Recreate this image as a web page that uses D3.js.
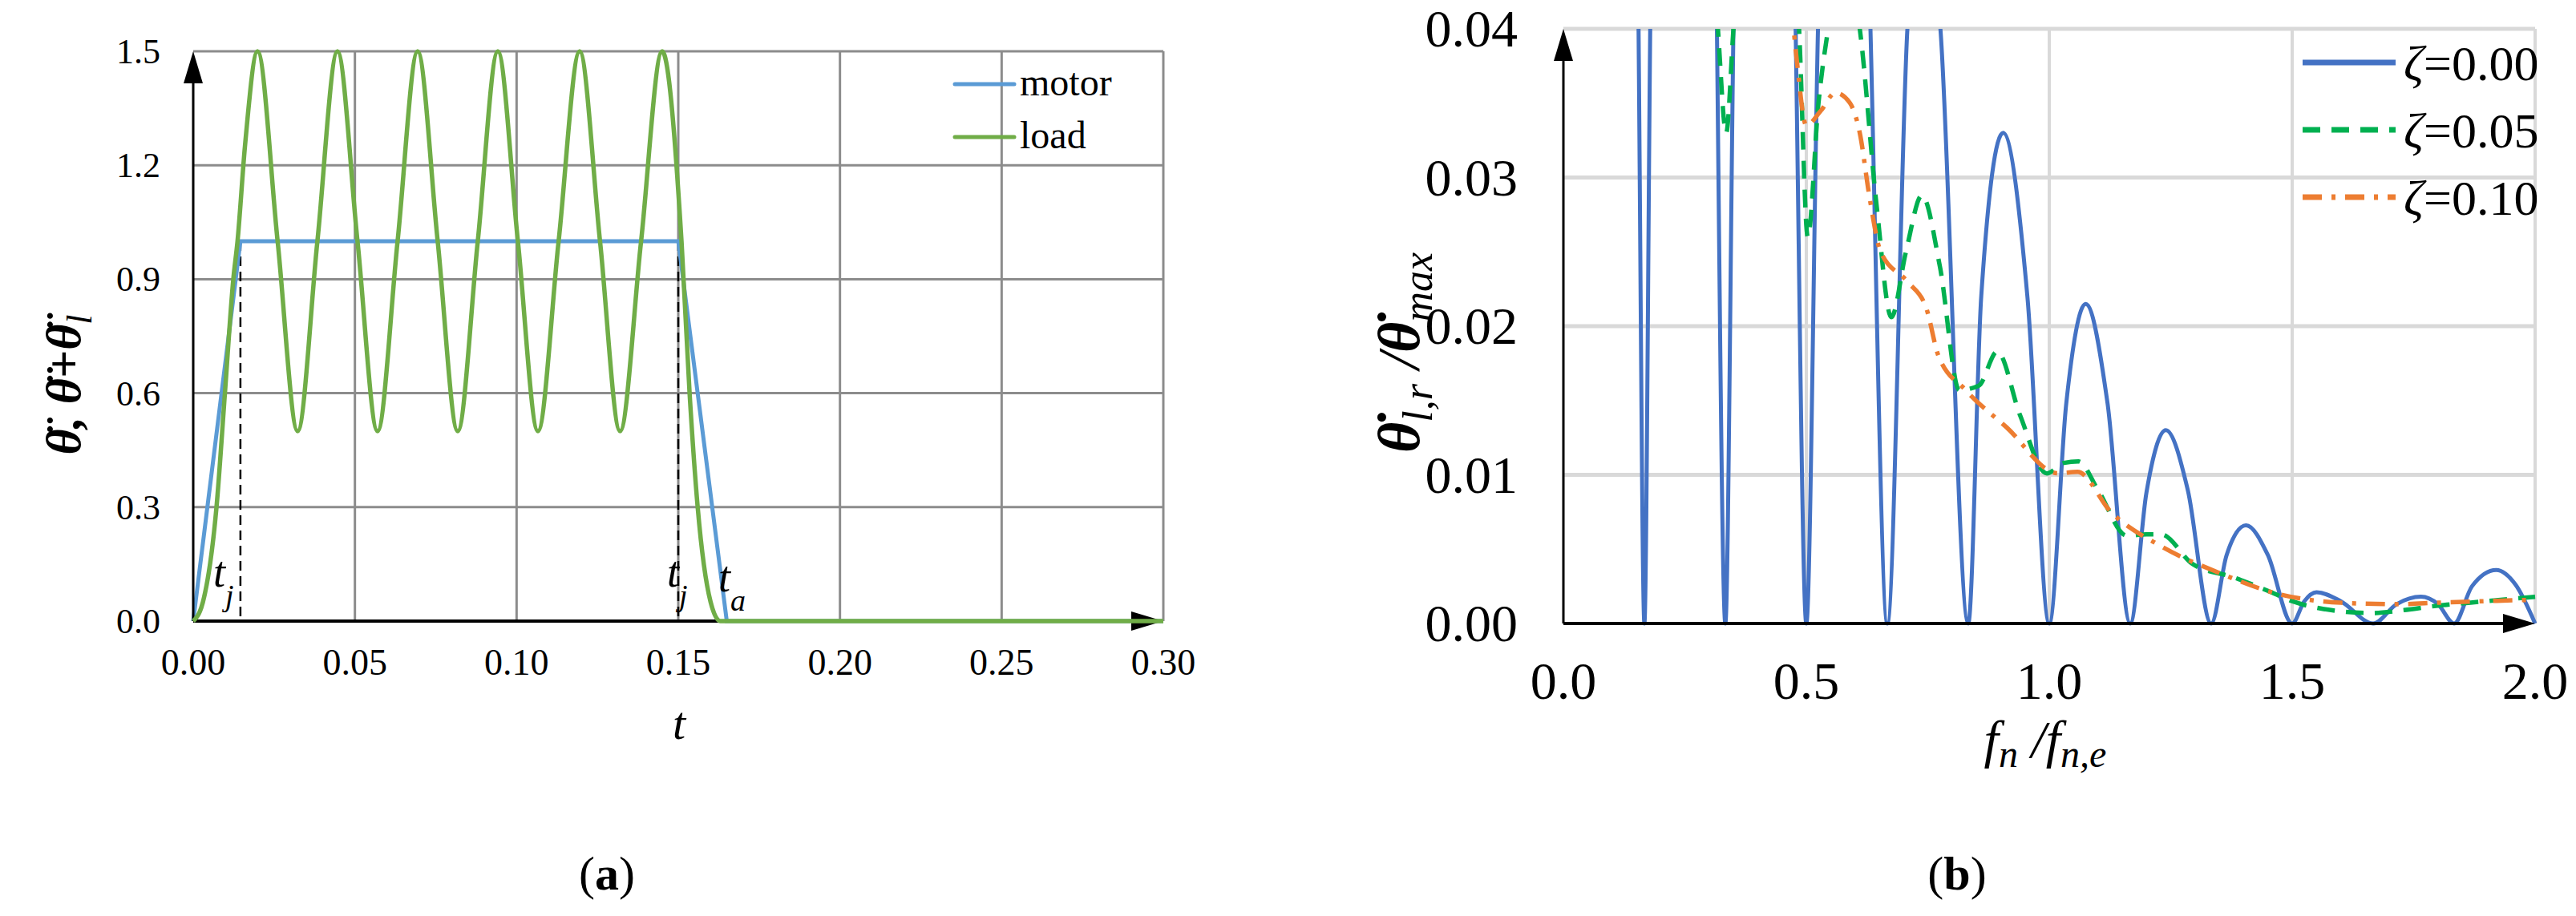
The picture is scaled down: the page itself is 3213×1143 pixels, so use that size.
<!DOCTYPE html>
<html><head><meta charset="utf-8">
<script src="https://cdn.jsdelivr.net/npm/d3@7"></script>
<style>body{margin:0;background:#fff}svg{display:block}text{font-family:"Liberation Serif","Times New Roman",serif}</style>
</head><body><svg id="c" width="3213" height="1143"></svg>
<script>
// ---- Panel (a) data ----
const aXTicks = [0, 0.05, 0.10, 0.15, 0.20, 0.25, 0.30];
const aYTicks = [0, 0.3, 0.6, 0.9, 1.2, 1.5];
const motorT = [0, 0.0146, 0.150, 0.165, 0.30];
const motorV = [0, 1, 1, 0, 0];
const loadT = [0, 0.003, 0.0072, 0.0098, 0.0124, 0.0137, 0.0160, 0.0199,
  0.0261, 0.0323, 0.0384, 0.0446, 0.0508, 0.0570, 0.0632, 0.0694, 0.0756, 0.0818,
  0.0880, 0.0942, 0.1004, 0.1066, 0.1130, 0.1195, 0.1258, 0.1320, 0.1385, 0.1450,
  0.1510, 0.1535, 0.1560, 0.1600, 0.1630, 0.30];
const loadV = [0, 0.05, 0.30, 0.60, 0.90, 1.0, 1.25, 1.5,
  1.0, 0.5, 1.0, 1.5, 1.0, 0.5, 1.0, 1.5, 1.0, 0.5,
  1.0, 1.5, 1.0, 0.5, 1.0, 1.5, 1.0, 0.5, 1.0, 1.5,
  1.0, 0.6, 0.3, 0.05, 0, 0];
const tjStart = 0.0146, tjEnd = 0.150;

// ---- Panel (b) data ----
const bXTicks = [0, 0.5, 1.0, 1.5, 2.0];
const bYTicks = [0, 0.01, 0.02, 0.03, 0.04];
const z0X = [0, 0.08, 0.14, 0.1547, 0.1667, 0.1787, 0.2, 0.25, 0.3, 0.316, 0.3333, 0.35, 0.38, 0.42, 0.46, 0.478, 0.5, 0.524, 0.55, 0.58, 0.61, 0.632, 0.6667, 0.708, 0.74, 0.776, 0.8333,
  0.86, 0.905, 0.955, 1.0, 1.035, 1.075, 1.12, 1.1667, 1.2, 1.24, 1.285, 1.3333, 1.365, 1.405, 1.45, 1.5, 1.525, 1.55, 1.6, 1.6667, 1.715, 1.765, 1.8, 1.8333, 1.87, 1.92, 1.96, 2.0];
const z0Y = [0.5, 0.5, 0.1, 0.04, 0, 0.04, 0.1, 0.3, 0.1, 0.04, 0, 0.04, 0.1, 0.15, 0.08, 0.04, 0, 0.04, 0.07, 0.09, 0.07, 0.04, 0, 0.04, 0.05, 0.04, 0,
  0.022, 0.033, 0.022, 0, 0.0148, 0.0215, 0.0148, 0, 0.0088, 0.013, 0.009, 0, 0.0046, 0.0066, 0.0046, 0, 0.0015, 0.0021, 0.0015, 0, 0.0013, 0.0018, 0.0013, 0, 0.0025, 0.0036, 0.0026, 0];
const z05X = [0.28, 0.318, 0.335, 0.35, 0.4, 0.46, 0.485, 0.503, 0.525, 0.545, 0.58, 0.61, 0.645, 0.675, 0.705, 0.738, 0.775, 0.815, 0.855, 0.893, 0.94, 0.995, 1.03, 1.06, 1.1, 1.16, 1.2, 1.23, 1.295, 1.38, 1.45, 1.5, 1.58, 1.665, 1.73, 1.8, 1.9, 2.0];
const z05Y = [0.06, 0.04, 0.033, 0.04, 0.06, 0.05, 0.04, 0.026, 0.035, 0.04, 0.045, 0.04, 0.028, 0.0206, 0.025, 0.0288, 0.024, 0.0157, 0.016, 0.0183, 0.014, 0.0101, 0.0108, 0.0109, 0.009, 0.0059, 0.006, 0.006, 0.004, 0.0031, 0.0022, 0.0015, 0.0009, 0.0007, 0.0009, 0.0012, 0.0015, 0.0018];
const z10X = [0.44, 0.46, 0.48, 0.5, 0.53, 0.56, 0.59, 0.61, 0.63, 0.653, 0.708, 0.747, 0.772, 0.828, 0.912, 1.018, 1.058, 1.127, 1.23, 1.35, 1.47, 1.6, 1.72, 1.8, 2.0];
const z10Y = [0.05, 0.045, 0.038, 0.0335, 0.0345, 0.0357, 0.035, 0.033, 0.0287, 0.025, 0.023, 0.0212, 0.018, 0.0157, 0.0132, 0.0101, 0.0102, 0.0075, 0.0052, 0.0034, 0.0020, 0.0014, 0.0013, 0.0014, 0.0016];
const legA = ["motor", "load"];
const legB = ["ζ=0.00", "ζ=0.05", "ζ=0.10"];

const svg = d3.select("#c");
const defs = svg.append("defs");
function arrowHead(g, x, y, dir) {
  const p = dir === "up" ? [[x, y], [x - 12, y + 40], [x + 12, y + 40]] : [[x, y], [x - 40, y - 12], [x - 40, y + 12]];
  g.append("path").attr("d", "M" + p.join("L") + "Z").attr("fill", "#000");
}
function zip(a, b) { return a.map((v, i) => [v, b[i]]); }

// ===== Panel (a) =====
{
  const x = d3.scaleLinear().domain([0, 0.3]).range([241, 1451]);
  const y = d3.scaleLinear().domain([0, 1.5]).range([775, 64]);
  const g = svg.append("g");
  g.selectAll(".gx").data(aXTicks.slice(1)).join("line").attr("x1", d => x(d)).attr("x2", d => x(d)).attr("y1", y(0)).attr("y2", y(1.5)).attr("stroke", "#8c8c8c").attr("stroke-width", 3);
  g.selectAll(".gy").data(aYTicks.slice(1)).join("line").attr("x1", x(0)).attr("x2", x(0.3)).attr("y1", d => y(d)).attr("y2", d => y(d)).attr("stroke", "#8c8c8c").attr("stroke-width", 3);
  g.selectAll(".tx").data(aXTicks).join("text").attr("x", d => x(d)).attr("y", 842).attr("text-anchor", "middle").attr("font-size", 46).text(d => d.toFixed(2));
  g.selectAll(".ty").data(aYTicks).join("text").attr("x", 200).attr("y", d => y(d) + 15).attr("text-anchor", "end").attr("font-size", 44).text(d => d.toFixed(1));
  // dashed markers
  [tjStart, tjEnd].forEach(t => g.append("line").attr("x1", x(t)).attr("x2", x(t)).attr("y1", y(1)).attr("y2", y(0)).attr("stroke", "#000").attr("stroke-width", 2.5).attr("stroke-dasharray", "12,7"));
  const line = d3.line().x(d => x(d[0])).y(d => y(d[1]));
  g.append("path").attr("d", line(zip(motorT, motorV))).attr("fill", "none").attr("stroke", "#5B9BD5").attr("stroke-width", 5);
  // axes
  g.append("line").attr("x1", x(0)).attr("x2", x(0.3) - 20).attr("y1", y(0)).attr("y2", y(0)).attr("stroke", "#000").attr("stroke-width", 4);
  g.append("line").attr("x1", x(0)).attr("x2", x(0)).attr("y1", y(0)).attr("y2", y(1.5) + 20).attr("stroke", "#000").attr("stroke-width", 3);
  arrowHead(g, x(0), y(1.5), "up");
  arrowHead(g, x(0.3), y(0), "right");
  g.append("path").attr("d", d3.line().x(d => x(d[0])).y(d => y(d[1])).curve(d3.curveMonotoneX)(zip(loadT, loadV))).attr("fill", "none").attr("stroke", "#70AD47").attr("stroke-width", 5.5);
  // legend
  const lc = ["#5B9BD5", "#70AD47"];
  legA.forEach((s, i) => {
    g.append("line").attr("x1", 1191).attr("x2", 1265).attr("y1", 105 + i * 66).attr("y2", 105 + i * 66).attr("stroke", lc[i]).attr("stroke-width", 5).attr("stroke-linecap", "round");
    g.append("text").attr("x", 1272).attr("y", 119 + i * 66).attr("font-size", 48).text(s);
  });
  // annotations
  function sub(xp, yp, main, s) {
    const t = g.append("text").attr("x", xp).attr("y", yp).attr("font-size", 54).attr("font-style", "italic");
    t.append("tspan").text(main);
    t.append("tspan").attr("font-size", 38).attr("dy", 24).text(s);
  }
  sub(266, 732, "t", "j");
  sub(832, 732, "t", "j");
  sub(896, 738, "t", "a");
  g.append("text").attr("x", 847).attr("y", 922).attr("font-size", 58).attr("font-style", "italic").attr("text-anchor", "middle").text("t");
  const yl = g.append("text").attr("transform", "translate(100,480) rotate(-90)").attr("text-anchor", "middle").attr("font-size", 62).attr("font-style", "italic").attr("font-weight", "bold");
  yl.append("tspan").text("θ\u0308, θ\u0308+θ\u0308");
  yl.append("tspan").attr("font-size", 44).attr("dy", 14).attr("font-weight", "normal").text("l");
  const ca = g.append("text").attr("x", 757).attr("y", 1110).attr("text-anchor", "middle").attr("font-size", 60);
  ca.append("tspan").text("(");
  ca.append("tspan").attr("font-weight", "bold").text("a");
  ca.append("tspan").text(")");
}

// ===== Panel (b) =====
{
  const x = d3.scaleLinear().domain([0, 2]).range([1950, 3162]);
  const y = d3.scaleLinear().domain([0, 0.04]).range([778, 36]);
  const g = svg.append("g");
  defs.append("clipPath").attr("id", "cb").append("rect").attr("x", x(0)).attr("y", y(0.04)).attr("width", x(2) - x(0) + 4).attr("height", y(0) - y(0.04) + 4);
  g.selectAll(".gx").data(bXTicks.slice(1)).join("line").attr("x1", d => x(d)).attr("x2", d => x(d)).attr("y1", y(0)).attr("y2", y(0.04)).attr("stroke", "#d9d9d9").attr("stroke-width", 4);
  g.selectAll(".gy").data(bYTicks.slice(1)).join("line").attr("x1", x(0)).attr("x2", x(2)).attr("y1", d => y(d)).attr("y2", d => y(d)).attr("stroke", "#d9d9d9").attr("stroke-width", 5);
  g.selectAll(".tx").data(bXTicks).join("text").attr("x", d => x(d)).attr("y", 872).attr("text-anchor", "middle").attr("font-size", 66).text(d => d.toFixed(1));
  g.selectAll(".ty").data(bYTicks).join("text").attr("x", 1893).attr("y", d => y(d) + 22).attr("text-anchor", "end").attr("font-size", 66).text(d => d.toFixed(2));
  const line = d3.line().x(d => x(d[0])).y(d => y(d[1])).curve(d3.curveMonotoneX);
  const pl = g.append("g").attr("clip-path", "url(#cb)");
  pl.append("path").attr("d", line(zip(z0X, z0Y))).attr("fill", "none").attr("stroke", "#4472C4").attr("stroke-width", 5);
  pl.append("path").attr("d", line(zip(z05X, z05Y))).attr("fill", "none").attr("stroke", "#00B050").attr("stroke-width", 5.5).attr("stroke-dasharray", "22,14");
  pl.append("path").attr("d", line(zip(z10X, z10Y))).attr("fill", "none").attr("stroke", "#ED7D31").attr("stroke-width", 5.5).attr("stroke-dasharray", "24,12,5,12");
  g.append("line").attr("x1", x(0)).attr("x2", x(2) - 20).attr("y1", y(0)).attr("y2", y(0)).attr("stroke", "#000").attr("stroke-width", 4);
  g.append("line").attr("x1", x(0)).attr("x2", x(0)).attr("y1", y(0)).attr("y2", y(0.04) + 20).attr("stroke", "#000").attr("stroke-width", 3);
  arrowHead(g, x(0), y(0.04), "up");
  arrowHead(g, x(2), y(0), "right");
  const lc = ["#4472C4", "#00B050", "#ED7D31"], ld = [null, "22,14", "24,12,5,12"];
  legB.forEach((s, i) => {
    const yy = 78 + i * 84;
    g.append("line").attr("x1", 2872).attr("x2", 2988).attr("y1", yy).attr("y2", yy).attr("stroke", lc[i]).attr("stroke-width", 7).attr("stroke-dasharray", ld[i]);
    const t = g.append("text").attr("x", 2998).attr("y", yy + 22).attr("font-size", 62);
    t.append("tspan").attr("font-style", "italic").text("ζ");
    t.append("tspan").text(s.slice(1));
  });
  const yl = g.append("text").attr("transform", "translate(1770,440) rotate(-90)").attr("text-anchor", "middle").attr("font-size", 74).attr("font-style", "italic").attr("font-weight", "bold");
  yl.append("tspan").text("θ\u0307");
  yl.append("tspan").attr("font-size", 52).attr("dy", 16).attr("font-weight", "normal").text("l,r");
  yl.append("tspan").attr("dy", -16).attr("font-weight", "normal").text(" /");
  yl.append("tspan").text("θ\u0307");
  yl.append("tspan").attr("font-size", 52).attr("dy", 16).attr("font-weight", "normal").text("max");
  const xl = g.append("text").attr("x", 2551).attr("y", 945).attr("text-anchor", "middle").attr("font-size", 66).attr("font-style", "italic");
  xl.append("tspan").text("f");
  xl.append("tspan").attr("font-size", 48).attr("dy", 12).text("n");
  xl.append("tspan").attr("dy", -12).text(" /f");
  xl.append("tspan").attr("font-size", 48).attr("dy", 12).text("n,e");
  const cb = g.append("text").attr("x", 2441).attr("y", 1110).attr("text-anchor", "middle").attr("font-size", 60);
  cb.append("tspan").text("(");
  cb.append("tspan").attr("font-weight", "bold").text("b");
  cb.append("tspan").text(")");
}
</script></body></html>
